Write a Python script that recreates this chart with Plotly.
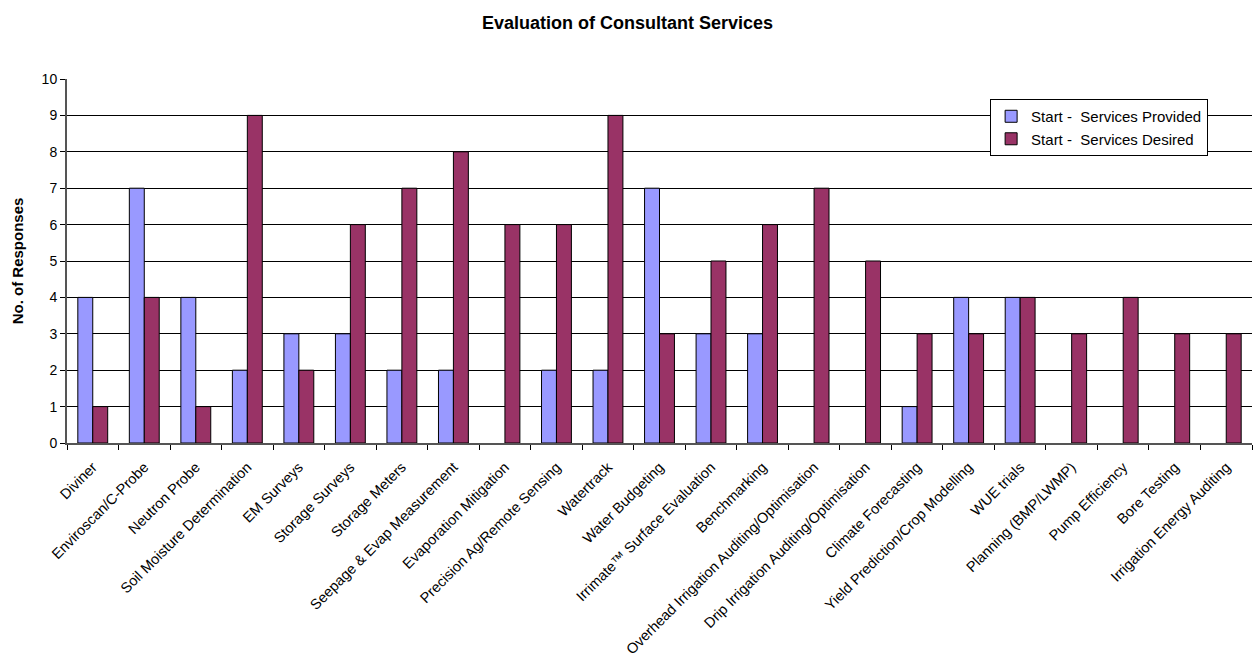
import plotly.graph_objects as go

categories = ["Diviner", "Enviroscan/C-Probe", "Neutron Probe", "Soil Moisture Determination",
              "EM Surveys", "Storage Surveys", "Storage Meters", "Seepage & Evap Measurement",
              "Evaporation Mitigation", "Precision Ag/Remote Sensing", "Watertrack", "Water Budgeting",
              "Irrimate™ Surface Evaluation", "Benchmarking", "Overhead Irrigation Auditing/Optimisation",
              "Drip Irrigation Auditing/Optimisation", "Climate Forecasting", "Yield Prediction/Crop Modelling",
              "WUE trials", "Planning (BMP/LWMP)", "Pump Efficiency", "Bore Testing", "Irrigation Energy Auditing"]
provided = [4, 7, 4, 2, 3, 3, 2, 2, 0, 2, 2, 7, 3, 3, 0, 0, 1, 4, 4, 0, 0, 0, 0]
desired = [1, 4, 1, 9, 2, 6, 7, 8, 6, 6, 9, 3, 5, 6, 7, 5, 3, 3, 4, 3, 4, 3, 3]

fig = go.Figure()
fig.add_trace(go.Bar(x=categories, y=[v if v else None for v in provided], name="Start -  Services Provided",
                     marker=dict(color="#9999FF", line=dict(color="black", width=1))))
fig.add_trace(go.Bar(x=categories, y=[v if v else None for v in desired], name="Start -  Services Desired",
                     marker=dict(color="#993366", line=dict(color="black", width=1))))

fig.update_layout(
    width=1255, height=661,
    margin=dict(l=67, r=3, t=79, b=218),
    paper_bgcolor="white", plot_bgcolor="white",
    font=dict(family="Liberation Sans, Arial", size=15, color="black"),
    title=dict(text="<b>Evaluation of Consultant Services</b>", x=0.5, xanchor="center",
               y=1 - 23 / 661, yanchor="middle", font=dict(size=18)),
    barmode="group", bargap=0.42, bargroupgap=0,
    showlegend=True,
    legend=dict(x=0.779, y=0.945, xanchor="left", yanchor="top", bgcolor="white",
                bordercolor="black", borderwidth=1, font=dict(size=15),
                itemwidth=30, tracegroupgap=0),
    xaxis=dict(type="category", tickangle=-45, ticks="outside", tickson="boundaries",
               ticklen=5, tickcolor="black", showline=True, linecolor="#555555", linewidth=2,
               automargin=False, tickfont=dict(size=14.5), ticklabelstandoff=8),
    yaxis=dict(range=[0, 10], dtick=1, ticks="outside", ticklen=5, tickcolor="black",
               showgrid=True, gridcolor="black", gridwidth=1, showline=True,
               linecolor="#555555", linewidth=2, zeroline=False, automargin=False,
               title=dict(text="<b>No. of Responses</b>", font=dict(size=15), standoff=14),
               tickfont=dict(size=14)),
)

fig.write_html("out.html")
